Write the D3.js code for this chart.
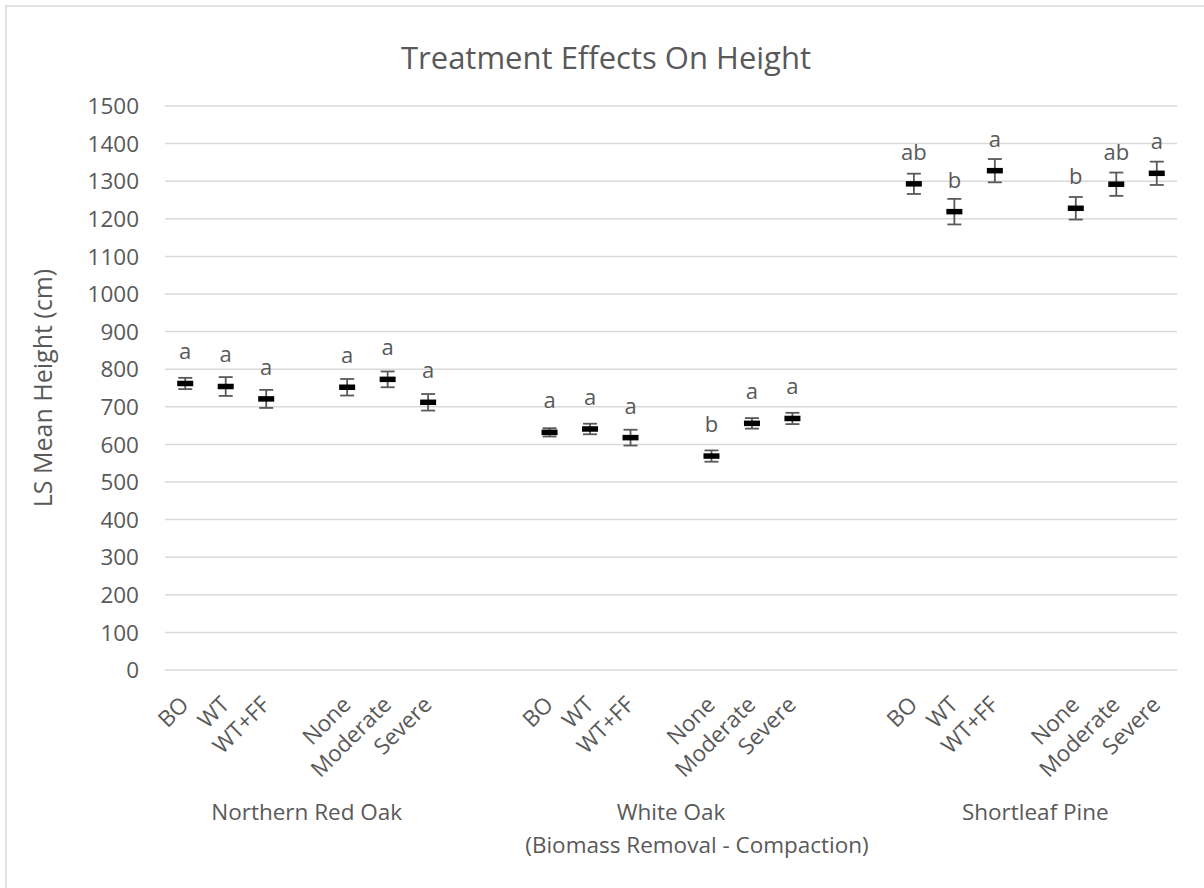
<!DOCTYPE html>
<html>
<head>
<meta charset="utf-8">
<script src="https://cdn.jsdelivr.net/npm/d3@7"></script>
<style>
  html, body { margin: 0; padding: 0; background: #fff; }
  svg text { font-family: "Open Sans", "Noto Sans", sans-serif; fill: #595959; }
</style>
</head>
<body>
<svg id="chart" width="1204" height="888"></svg>
<script>
// ---------------- data ----------------
const title = "Treatment Effects On Height";
const yTitle = "LS Mean Height (cm)";
const xTitle = "(Biomass Removal - Compaction)";
const species = ["Northern Red Oak", "White Oak", "Shortleaf Pine"];
const treatments = ["BO", "WT", "WT+FF", "None", "Moderate", "Severe"];
const yTicks = [0, 100, 200, 300, 400, 500, 600, 700, 800, 900, 1000, 1100, 1200, 1300, 1400, 1500];

const nroMeans = [762, 754, 721, 752, 773, 712];
const nroErr   = [15, 25, 24, 22, 21, 22];
const nroLetters = ["a", "a", "a", "a", "a", "a"];

const woMeans = [632, 641, 618, 569, 656, 669];
const woErr   = [11, 14, 21, 15, 14, 15];
const woLetters = ["a", "a", "a", "b", "a", "a"];

const spMeans = [1293, 1219, 1328, 1228, 1292, 1321];
const spErr   = [27, 34, 31, 30, 31, 31];
const spLetters = ["ab", "b", "a", "b", "ab", "a"];

const meansBySpecies = [nroMeans, woMeans, spMeans];
const errBySpecies = [nroErr, woErr, spErr];
const lettersBySpecies = [nroLetters, woLetters, spLetters];

// ---------------- layout ----------------
const svg = d3.select("#chart");
const W = 1204, H = 888;
const plot = { left: 165, right: 1177, top: 106, bottom: 670 };
const axisFont = "22.5px";

// Excel-style category slots: 3 treatments, blank, 3 treatments, 2 blanks between species
const slotsPerSpecies = 9;
const nSlots = species.length * slotsPerSpecies - 2;
const slotOf = (g, t) => g * slotsPerSpecies + (t < 3 ? t : t + 1);

const x = d3.scaleBand().domain(d3.range(nSlots)).range([plot.left, plot.right]).padding(0);
const y = d3.scaleLinear().domain([0, 1500]).range([plot.bottom, plot.top]);
const cx = s => x(s) + x.bandwidth() / 2;

// chart border
svg.append("rect")
  .attr("x", 6).attr("y", 6).attr("width", W).attr("height", H)
  .attr("fill", "none").attr("stroke", "#d9d9d9").attr("stroke-width", 1.5);

// gridlines
svg.append("g").selectAll("line").data(yTicks).join("line")
  .attr("x1", plot.left).attr("x2", plot.right)
  .attr("y1", d => y(d)).attr("y2", d => y(d))
  .attr("stroke", "#d9d9d9").attr("stroke-width", 1.5);

// y tick labels
svg.append("g").selectAll("text").data(yTicks).join("text")
  .attr("x", 139).attr("y", d => y(d)).attr("dy", "0.36em")
  .attr("text-anchor", "end").style("font-size", axisFont)
  .text(d => d);

// title
svg.append("text").attr("x", 606).attr("y", 69)
  .attr("text-anchor", "middle").style("font-size", "31px").text(title);

// y axis title
svg.append("text")
  .attr("transform", `translate(52, ${(plot.top + plot.bottom) / 2}) rotate(-90)`)
  .attr("text-anchor", "middle").style("font-size", "25px").text(yTitle);

// build points
const points = [];
species.forEach((sp, g) => {
  treatments.forEach((tr, t) => {
    points.push({
      slot: slotOf(g, t), label: tr,
      mean: meansBySpecies[g][t], err: errBySpecies[g][t], letter: lettersBySpecies[g][t]
    });
  });
});

// x tick labels (rotated)
svg.append("g").selectAll("text").data(points).join("text")
  .attr("transform", d => `translate(${cx(d.slot) + 5}, 706) rotate(-45)`)
  .attr("text-anchor", "end").style("font-size", axisFont)
  .text(d => d.label);

// species labels
svg.append("g").selectAll("text").data(species).join("text")
  .attr("x", (d, g) => (cx(slotOf(g, 0)) + cx(slotOf(g, 5))) / 2)
  .attr("y", 820).attr("text-anchor", "middle").style("font-size", axisFont)
  .text(d => d);

// x axis title
svg.append("text").attr("x", 697).attr("y", 853)
  .attr("text-anchor", "middle").style("font-size", axisFont).text(xTitle);

// error bars
const eb = svg.append("g").attr("stroke", "#595959").attr("stroke-width", 1.8);
eb.selectAll("line.v").data(points).join("line").attr("class", "v")
  .attr("x1", d => cx(d.slot)).attr("x2", d => cx(d.slot))
  .attr("y1", d => y(d.mean - d.err)).attr("y2", d => y(d.mean + d.err));
eb.selectAll("line.t").data(points).join("line").attr("class", "t")
  .attr("x1", d => cx(d.slot) - 7).attr("x2", d => cx(d.slot) + 7)
  .attr("y1", d => y(d.mean + d.err)).attr("y2", d => y(d.mean + d.err));
eb.selectAll("line.b").data(points).join("line").attr("class", "b")
  .attr("x1", d => cx(d.slot) - 7).attr("x2", d => cx(d.slot) + 7)
  .attr("y1", d => y(d.mean - d.err)).attr("y2", d => y(d.mean - d.err));

// markers (dash)
svg.append("g").selectAll("rect").data(points).join("rect")
  .attr("x", d => cx(d.slot) - 8).attr("y", d => y(d.mean) - 2.75)
  .attr("width", 16).attr("height", 5.5).attr("fill", "#000");

// significance letters
svg.append("g").selectAll("text").data(points).join("text")
  .attr("x", d => cx(d.slot)).attr("y", d => y(d.mean) - 24)
  .attr("text-anchor", "middle").style("font-size", "22px")
  .text(d => d.letter);
</script>
</body>
</html>
